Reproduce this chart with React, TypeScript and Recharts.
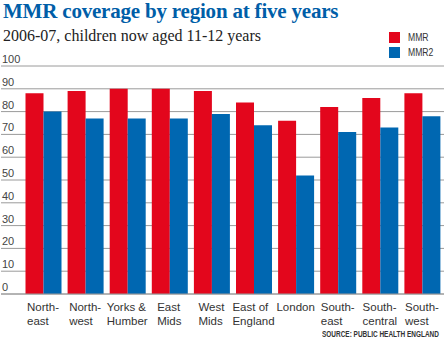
import React from "react";
import {
  BarChart,
  Bar,
  XAxis,
  YAxis,
  CartesianGrid,
} from "recharts";

const regions = [
  "North-\neast",
  "North-\nwest",
  "Yorks &\nHumber",
  "East\nMids",
  "West\nMids",
  "East of\nEngland",
  "London",
  "South-\neast",
  "South-\ncentral",
  "South-\nwest",
];

const mmr = [88, 89, 90, 90, 89, 84, 76, 82, 86, 88];
const mmr2 = [80, 77, 77, 77, 79, 74, 52, 71, 73, 78];

const yTicks = [0, 10, 20, 30, 40, 50, 60, 70, 80, 90, 100];

const data = regions.map((region, i) => ({
  region,
  MMR: mmr[i],
  MMR2: mmr2[i],
}));

const RED = "#e3061c";
const BLUE = "#0067b1";
const TEXT = "#333";
const SANS = "'Liberation Sans', Arial, sans-serif";

let ctx: CanvasRenderingContext2D | null = null;
function measure(text: string, font: string) {
  if (!ctx) ctx = document.createElement("canvas").getContext("2d");
  if (!ctx) return text.length * 6;
  ctx.font = font;
  return ctx.measureText(text).width;
}

// labels are a left aligned block, centred under each group
function RegionTick(props: any) {
  const { x, y, payload } = props;
  const lines = String(payload.value).split("\n");
  const font = "11.5px 'Liberation Sans'";
  const w = Math.max(...lines.map((l) => measure(l, font)));
  return (
    <text
      x={x - w / 2}
      y={y}
      fontSize={11.5}
      fontFamily={SANS}
      fill={TEXT}
      textAnchor="start"
    >
      {lines.map((l, i) => (
        <tspan key={i} x={x - w / 2} dy={i === 0 ? 9 : 13.5}>
          {l}
        </tspan>
      ))}
    </text>
  );
}

function ValueTick(props: any) {
  const { y, payload } = props;
  return (
    <text
      x={2}
      y={y - 3}
      fontSize={11}
      fontFamily={SANS}
      fill="#444"
      textAnchor="start"
    >
      {payload.value}
    </text>
  );
}

export default function App() {
  return (
    <div
      style={{
        position: "relative",
        width: 445,
        height: 340,
        background: "#fff",
        overflow: "hidden",
      }}
    >
      <style>{"body{margin:0}"}</style>

      <div
        style={{
          position: "absolute",
          left: 3,
          top: -1,
          fontFamily: "'Liberation Serif', serif",
          fontWeight: 700,
          fontSize: 21,
          color: "#005ea8",
          whiteSpace: "nowrap",
          letterSpacing: -0.2,
        }}
      >
        MMR coverage by region at five years
      </div>

      <div
        style={{
          position: "absolute",
          left: 3,
          top: 27,
          fontFamily: "'Liberation Serif', serif",
          fontSize: 16,
          color: "#222",
          whiteSpace: "nowrap",
        }}
      >
        2006-07, children now aged 11-12 years
      </div>

      <div
        style={{
          position: "absolute",
          left: 389,
          top: 30,
          fontFamily: SANS,
          fontSize: 10.5,
          color: TEXT,
          lineHeight: "15px",
        }}
      >
        {[
          ["MMR", RED],
          ["MMR2", BLUE],
        ].map(([name, color]) => (
          <div key={name} style={{ display: "flex", alignItems: "center" }}>
            <span
              style={{
                display: "inline-block",
                width: 11,
                height: 11,
                background: color,
                marginRight: 8,
              }}
            />
            <span
              style={{
                display: "inline-block",
                transform: "scaleX(0.82)",
                transformOrigin: "left center",
              }}
            >
              {name}
            </span>
          </div>
        ))}
      </div>

      <div style={{ position: "absolute", left: 0, top: 0 }}>
        <BarChart
          width={445}
          height={340}
          data={data}
          margin={{ top: 66, right: 1, left: 0, bottom: 6 }}
          barCategoryGap={3.5}
          barGap={0}
        >
          <CartesianGrid
            vertical={false}
            stroke="#9a9a9a"
            strokeWidth={1}
          />
          <XAxis
            dataKey="region"
            height={40}
            padding={{ left: 21, right: 1 }}
            tickLine={false}
            axisLine={{ stroke: "#9a9a9a" }}
            tick={<RegionTick />}
            interval={0}
          />
          <YAxis
            width={1}
            domain={[0, 100]}
            ticks={yTicks}
            axisLine={false}
            tickLine={false}
            tick={<ValueTick />}
            interval={0}
          />
          <Bar dataKey="MMR" fill={RED} isAnimationActive={false} />
          <Bar dataKey="MMR2" fill={BLUE} isAnimationActive={false} />
        </BarChart>
      </div>

      <div
        style={{
          position: "absolute",
          right: 6,
          top: 328,
          fontFamily: SANS,
          fontWeight: 700,
          fontSize: 9.5,
          color: TEXT,
          whiteSpace: "nowrap",
          transform: "scaleX(0.68)",
          transformOrigin: "right center",
        }}
      >
        SOURCE: PUBLIC HEALTH ENGLAND
      </div>
    </div>
  );
}
